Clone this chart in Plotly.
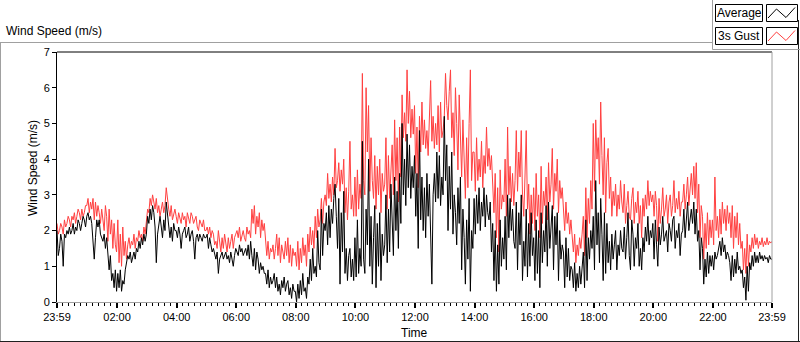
import plotly.graph_objects as go
import pandas as pd

# ---------------- data (2.5-minute samples, 23:59 -> 23:59) ----------------
tick_labels = ["23:59", "02:00", "04:00", "06:00", "08:00", "10:00", "12:00",
               "14:00", "16:00", "18:00", "20:00", "22:00", "23:59"]

gust = [
    2.2, 1.9, 2.0, 2.2, 2.1, 1.9, 2.3, 2.1, 2.2, 2.4, 2.3, 2.1, 2.4, 2.3, 2.5, 2.2, 2.4, 2.6, 2.5, 2.3, 2.6, 2.4, 2.5, 2.7,
    2.7, 2.9, 2.5, 2.8, 2.6, 2.9, 2.3, 2.8, 2.4, 2.7, 2.5, 2.2, 2.6, 2.3, 2.0, 2.7, 2.4, 1.7, 2.6, 1.9, 2.3, 1.5, 2.2, 1.6,
    1.4, 2.3, 1.1, 1.9, 1.0, 2.1, 1.3, 1.7, 1.2, 1.6, 1.8, 1.5, 1.7, 1.6, 1.9, 1.5, 1.8, 1.7, 2.0, 1.8, 1.9, 1.7, 2.1, 1.9,
    2.2, 2.6, 2.5, 2.9, 2.7, 3.0, 2.8, 2.6, 2.9, 2.5, 2.7, 2.4, 2.6, 2.8, 2.5, 2.7, 3.2, 2.8, 2.6, 2.4, 2.7, 2.3, 2.5, 2.6,
    2.4, 2.2, 2.5, 2.3, 2.2, 2.5, 2.3, 2.4, 2.1, 2.5, 2.3, 2.2, 2.5, 2.4, 2.2, 2.3, 2.4, 2.1, 2.0, 2.3, 2.2, 2.1, 2.3, 2.0,
    2.0, 2.1, 1.9, 2.1, 1.8, 2.0, 1.9, 1.6, 1.7, 1.5, 2.0, 1.6, 1.4, 1.8, 1.5, 1.9, 1.6, 1.4, 1.8, 1.5, 1.7, 1.9, 1.5, 1.8,
    1.9, 2.0, 1.8, 2.1, 1.7, 1.9, 2.0, 1.8, 1.7, 2.1, 1.9, 2.0, 1.8, 2.6, 2.2, 2.7, 1.9, 2.4, 2.1, 2.5, 1.8, 2.3, 2.0, 2.2,
    1.6, 1.3, 1.7, 1.2, 1.5, 1.4, 1.6, 1.2, 1.5, 1.9, 1.3, 1.8, 1.1, 1.6, 1.4, 1.2, 1.7, 1.3, 1.8, 1.1, 1.6, 1.0, 1.5, 1.3,
    1.4, 1.0, 1.7, 0.9, 1.5, 1.1, 1.8, 1.3, 1.6, 1.0, 1.9, 1.4, 2.1, 1.6, 2.0, 1.5, 2.4, 1.8, 2.6, 2.1, 2.3, 2.9, 2.2, 2.8,
    3.0, 2.7, 3.6, 2.9, 3.3, 2.8, 3.5, 3.0, 4.3, 3.2, 3.4, 3.9, 3.1, 3.7, 3.3, 4.0, 2.5, 3.2, 2.3, 3.1, 4.5, 2.6, 3.0, 2.4,
    3.5, 2.4, 3.7, 2.6, 3.3, 2.9, 6.4, 3.4, 3.0, 6.0, 4.2, 5.5, 3.1, 4.6, 3.4, 2.9, 4.1, 2.6, 3.8, 3.0, 4.0, 2.5, 3.6, 3.1,
    3.3, 4.6, 2.6, 4.1, 2.9, 3.6, 4.4, 3.0, 5.1, 3.4, 4.6, 2.8, 4.9, 3.5, 5.8, 4.6, 5.3, 4.5, 6.5, 5.0, 5.9, 4.6, 5.4, 4.7,
    5.5, 3.6, 4.9, 3.2, 5.2, 4.2, 5.6, 4.4, 5.1, 4.3, 4.8, 4.1, 5.0, 6.2, 4.5, 5.2, 4.3, 5.0, 4.4, 5.5, 4.2, 5.6, 4.6, 4.8,
    5.2, 6.4, 5.5, 5.1, 5.9, 6.5, 4.6, 5.3, 4.1, 6.0, 5.0, 3.7, 5.8, 4.4, 3.5, 5.1, 4.0, 2.9, 4.6, 3.2, 5.0, 6.5, 3.4, 4.2,
    4.2, 3.1, 4.6, 3.4, 4.0, 3.5, 4.5, 3.2, 4.1, 3.6, 4.9, 3.8, 4.3, 3.7, 4.1, 3.3, 2.5, 3.6, 1.8, 3.2, 1.4, 3.7, 2.6, 3.0,
    2.8, 4.0, 2.4, 4.9, 3.0, 3.8, 2.8, 3.6, 2.7, 3.4, 4.8, 3.1, 4.2, 3.5, 4.8, 3.0, 2.4, 3.5, 4.8, 2.6, 3.3, 1.9, 3.0, 2.2,
    3.2, 2.0, 3.6, 2.4, 3.0, 1.8, 3.8, 2.2, 3.1, 2.7, 3.5, 2.3, 3.9, 2.8, 3.3, 4.3, 2.6, 3.6, 3.1, 4.0, 2.5, 3.4, 2.9, 3.2,
    2.6, 2.0, 2.8, 2.2, 2.5, 1.9, 2.3, 1.8, 1.4, 1.9, 1.1, 1.6, 1.3, 1.8, 1.5, 1.9, 2.4, 1.3, 3.2, 1.8, 2.9, 2.2, 3.4, 2.6,
    5.0, 3.1, 5.1, 4.0, 4.6, 3.3, 5.6, 4.1, 3.0, 4.6, 2.5, 3.9, 4.3, 2.9, 3.5, 2.4, 3.1, 2.7, 3.3, 2.4, 3.0, 2.6, 3.4, 2.8,
    2.5, 3.3, 2.2, 2.7, 3.1, 2.4, 2.3, 2.9, 3.2, 2.2, 2.8, 2.5, 3.1, 2.2, 2.7, 1.8, 2.9, 2.4, 3.0, 2.6, 3.4, 2.7, 3.1, 2.8,
    3.0, 2.4, 3.1, 2.7, 1.7, 2.9, 2.2, 2.6, 3.2, 2.4, 2.6, 3.0, 2.2, 2.8, 3.0, 2.4, 2.7, 3.4, 2.5, 2.9, 2.6, 3.1, 2.4, 2.8,
    2.8, 3.3, 2.6, 3.0, 3.5, 2.7, 3.2, 3.6, 3.0, 3.8, 2.9, 3.9, 2.5, 3.3, 1.8, 2.7, 2.4, 1.2, 2.2, 1.5, 2.5, 1.6, 2.3, 1.8,
    2.3, 1.6, 3.5, 2.0, 2.4, 1.8, 2.6, 1.9, 2.8, 2.2, 2.6, 2.0, 2.7, 2.2, 2.5, 1.8, 2.7, 1.5, 2.4, 1.8, 2.5, 1.6, 2.2, 1.5,
    1.7, 0.9, 1.5, 0.8, 1.9, 1.0, 1.6, 1.4, 1.8, 1.5, 1.9, 1.6, 1.8, 1.5, 1.7, 1.6, 1.8, 1.55, 1.7, 1.6, 1.8, 1.6, 1.7, 1.65,
    1.7,
]

average = [
    2.0, 1.3, 1.5, 1.9, 1.7, 1.0, 1.9, 1.8, 2.0, 1.9, 2.1, 1.9, 2.0, 2.2, 1.9, 2.1, 2.0, 2.3, 2.2, 2.0, 2.2, 2.4, 2.3, 2.1,
    2.4, 2.5, 2.3, 2.4, 2.2, 1.6, 1.2, 1.8, 2.3, 2.1, 2.3, 1.9, 1.8, 1.7, 1.9, 1.5, 1.8, 1.2, 0.9, 1.3, 0.6, 0.8, 0.4, 0.9,
    0.3, 0.8, 0.4, 0.9, 0.3, 0.6, 0.5, 0.9, 1.1, 1.3, 1.2, 1.4, 1.1, 1.3, 1.4, 1.2, 1.5, 1.4, 1.7, 1.5, 1.8, 1.6, 1.9, 1.7,
    1.9, 2.4, 2.2, 2.6, 2.3, 2.7, 2.5, 2.1, 1.1, 1.9, 2.2, 2.4, 2.1, 1.8, 2.3, 2.0, 2.8, 2.5, 2.2, 1.8, 2.1, 1.7, 2.2, 2.0,
    2.0, 1.8, 2.1, 1.9, 1.5, 1.9, 2.0, 2.1, 1.8, 1.9, 2.1, 1.7, 1.9, 2.0, 1.7, 1.2, 1.8, 1.9, 1.7, 1.9, 1.8, 1.7, 1.9, 1.8,
    1.8, 1.9, 1.5, 1.8, 1.6, 1.4, 1.5, 1.3, 1.2, 1.4, 0.8, 1.2, 1.3, 1.4, 1.2, 1.3, 1.4, 1.2, 1.3, 1.1, 1.4, 1.2, 1.0, 1.3,
    1.5, 1.4, 1.3, 1.6, 1.4, 1.5, 1.3, 1.4, 1.5, 1.3, 1.6, 1.2, 1.7, 1.3, 1.0, 1.5, 0.9, 1.4, 1.2, 0.8, 1.1, 0.9, 1.0, 0.8,
    0.8, 0.5, 0.9, 0.4, 0.7, 0.5, 0.6, 0.8, 0.4, 0.7, 0.3, 0.5, 0.2, 0.6, 0.4, 0.7, 0.3, 0.5, 0.6, 0.2, 0.4, 0.1, 0.5, 0.3,
    0.3, 0.0, 0.5, 0.1, 0.6, 0.2, 0.8, 0.3, 0.4, 0.1, 0.7, 0.5, 1.2, 0.6, 1.5, 0.8, 1.0, 0.7, 2.0, 1.1, 0.9, 2.6, 1.3, 2.2,
    2.0, 2.5, 1.6, 2.7, 1.8, 2.6, 2.2, 2.9, 3.3, 2.4, 1.5, 2.9, 0.5, 2.5, 1.4, 3.1, 0.8, 1.5, 0.6, 1.3, 1.5, 0.7, 1.2, 0.6,
    1.8, 0.7, 2.3, 0.8, 1.5, 1.0, 4.5, 1.2, 0.8, 2.6, 1.6, 4.0, 1.0, 2.4, 0.5, 1.8, 2.7, 0.4, 2.2, 1.0, 2.5, 0.6, 1.9, 1.3,
    1.6, 3.0, 1.1, 2.6, 1.4, 3.3, 2.0, 1.3, 3.5, 2.0, 3.1, 1.5, 3.6, 2.2, 5.0, 3.0, 4.0, 2.7, 4.7, 3.2, 4.4, 2.9, 3.8, 3.2,
    4.1, 2.4, 3.6, 1.5, 4.8, 2.3, 3.5, 2.0, 3.2, 1.8, 3.6, 2.4, 3.3, 2.1, 0.5, 3.0, 3.6, 2.8, 4.2, 2.9, 4.1, 2.7, 3.5, 3.0,
    5.2, 3.4, 4.4, 2.0, 3.8, 2.6, 4.2, 1.9, 3.0, 2.5, 1.6, 3.2, 2.2, 3.5, 0.9, 2.6, 1.8, 0.5, 2.3, 1.2, 2.9, 0.3, 2.0, 1.5,
    2.9, 1.9, 3.0, 2.2, 3.2, 2.0, 2.8, 2.4, 3.2, 2.1, 3.0, 2.5, 2.3, 2.8, 1.4, 2.2, 0.6, 2.0, 0.3, 1.6, 0.5, 2.3, 1.0, 1.8,
    1.2, 2.4, 0.9, 3.0, 1.8, 2.9, 2.0, 2.6, 1.7, 1.5, 2.8, 0.9, 2.5, 1.6, 3.0, 0.6, 1.7, 1.0, 2.6, 0.7, 2.2, 1.0, 2.5, 1.3,
    1.8, 0.6, 2.3, 0.8, 2.0, 0.4, 2.5, 1.1, 2.0, 1.4, 2.7, 1.0, 2.8, 1.5, 2.2, 2.7, 0.9, 2.4, 1.6, 2.5, 0.6, 2.0, 1.2, 1.6,
    1.4, 0.4, 1.8, 0.7, 1.5, 0.6, 1.0, 0.9, 0.4, 1.1, 0.3, 0.8, 0.4, 1.0, 0.5, 1.0, 1.4, 0.4, 2.3, 0.6, 1.8, 1.2, 2.0, 1.5,
    2.4, 0.9, 3.4, 1.6, 2.5, 1.1, 2.9, 1.9, 0.6, 2.5, 0.8, 2.2, 1.1, 1.7, 0.9, 1.9, 1.2, 1.6, 2.0, 0.9, 1.6, 1.3, 2.0, 1.5,
    1.4, 2.1, 1.2, 1.8, 2.5, 1.3, 0.9, 2.3, 1.9, 1.0, 1.8, 1.5, 2.2, 1.0, 1.5, 0.9, 1.8, 1.4, 2.1, 1.7, 2.4, 1.6, 2.0, 1.8,
    2.2, 1.2, 2.3, 1.6, 1.0, 2.1, 1.6, 1.9, 2.4, 1.7, 1.9, 2.0, 1.4, 2.2, 2.0, 1.7, 2.3, 2.4, 1.5, 2.0, 1.8, 2.2, 1.3, 1.9,
    2.0, 2.6, 1.8, 2.3, 2.8, 2.0, 2.4, 2.6, 2.2, 2.8, 1.9, 2.6, 1.7, 2.0, 0.9, 1.8, 1.5, 0.5, 1.2, 0.7, 1.4, 0.8, 1.3, 1.0,
    1.3, 0.9, 1.4, 1.2, 1.3, 1.5, 1.7, 1.3, 1.8, 1.4, 1.6, 1.2, 1.4, 1.3, 1.1, 0.6, 1.3, 0.7, 1.2, 0.8, 1.4, 0.9, 1.0, 0.8,
    0.9, 0.4, 0.7, 0.05, 1.0, 0.3, 1.1, 0.9, 1.3, 1.0, 1.4, 1.1, 1.3, 1.1, 1.4, 1.2, 1.3, 1.15, 1.3, 1.2, 1.25, 1.1, 1.3, 1.2,
    1.2,
]

start = pd.Timestamp("2024-01-01 23:59")
end = start + pd.Timedelta(hours=24)
times_g = pd.date_range(start, periods=len(gust), freq="150s")
times_a = pd.date_range(start, periods=len(average), freq="150s")
tick_vals = [start] + [pd.Timestamp("2024-01-02") + pd.Timedelta(hours=h)
                       for h in range(2, 23, 2)] + [end]

# ---------------- geometry helpers (pixels -> paper) ----------------
W, H = 800, 342
L, R, T, B = 57, 772, 52, 302


def px(x):
    return (x - L) / (R - L)


def py(y):
    return (B - y) / (B - T)


FONT = "Liberation Sans, Arial, sans-serif"
TXT = "#000000"
GRAY = "#a0a0a0"
RED = "#ff4040"

fig = go.Figure()
fig.add_trace(go.Scatter(x=times_g, y=gust, mode="lines", name="3s Gust",
                         line=dict(color=RED, width=1), showlegend=False))
fig.add_trace(go.Scatter(x=times_a, y=average, mode="lines", name="Average",
                         line=dict(color="#000000", width=1), showlegend=False))

shapes = []


def seg(x0, y0, x1, y1, color, width=1):
    shapes.append(dict(type="line", xref="paper", yref="paper",
                       x0=px(x0), y0=py(y0), x1=px(x1), y1=py(y1),
                       line=dict(color=color, width=width), layer="above"))


# outer panel frame
seg(0, 42.5, 712, 42.5, GRAY)
seg(0.5, 42.5, 0.5, 341, GRAY)
seg(0, 341.5, 800, 341.5, "#202020")
seg(798.5, 20, 798.5, 341.5, "#202020")
# plot area top / right borders
seg(L, T, R, T, "#000000")
seg(R, T, R, B, GRAY)
# legend panel L-border
seg(712.5, 0, 712.5, 49.5, GRAY)
seg(712.5, 49.5, 800, 49.5, GRAY)

# legend boxes
for (y0, y1) in [(4.5, 21.5), (27.5, 44.5)]:
    for (x0, x1) in [(715.5, 762.5), (766.5, 797.5)]:
        shapes.append(dict(type="rect", xref="paper", yref="paper",
                           x0=px(x0), x1=px(x1), y0=py(y1), y1=py(y0),
                           line=dict(color="#000000", width=1),
                           fillcolor="white", layer="above"))


def zig(y_off, color):
    pts = [(768, 18), (776.5, 9), (786, 17.5), (795, 7.5)]
    d = "M " + " L ".join(f"{px(x)},{py(y + y_off)}" for x, y in pts)
    shapes.append(dict(type="path", xref="paper", yref="paper", path=d,
                       line=dict(color=color, width=1), layer="above"))


zig(0, "#000000")
zig(23, RED)

annotations = [
    dict(text="Wind Speed (m/s)", x=px(4), y=py(31), xref="paper", yref="paper",
         xanchor="left", yanchor="middle", showarrow=False,
         font=dict(family=FONT, size=12, color=TXT)),
    dict(text="Average", x=px(739), y=py(13), xref="paper", yref="paper",
         xanchor="center", yanchor="middle", showarrow=False,
         font=dict(family=FONT, size=12, color=TXT)),
    dict(text="3s Gust", x=px(739), y=py(36), xref="paper", yref="paper",
         xanchor="center", yanchor="middle", showarrow=False,
         font=dict(family=FONT, size=12, color=TXT)),
    dict(text="Wind Speed (m/s)", x=px(33), y=py(168), xref="paper", yref="paper",
         xanchor="center", yanchor="middle", showarrow=False, textangle=-90,
         font=dict(family=FONT, size=12, color=TXT)),
    dict(text="Time", x=px(414), y=py(333), xref="paper", yref="paper",
         xanchor="center", yanchor="middle", showarrow=False,
         font=dict(family=FONT, size=12, color=TXT)),
]

fig.update_layout(
    width=W, height=H,
    margin=dict(l=L, r=W - R, t=T, b=H - B, pad=0),
    paper_bgcolor="white", plot_bgcolor="white",
    font=dict(family=FONT, size=11, color=TXT),
    shapes=shapes, annotations=annotations,
    xaxis=dict(type="date", range=[start, end], tickmode="array",
               tickvals=tick_vals, ticktext=tick_labels,
               ticks="outside", ticklen=5, tickwidth=2, tickcolor="#000000",
               showline=True, linecolor=GRAY, linewidth=1,
               showgrid=False, zeroline=False,
               tickfont=dict(family=FONT, size=11, color=TXT),
               minor=dict(ticks="outside", ticklen=3, tickwidth=1,
                          tickcolor="#000000", tickmode="linear",
                          tick0=start, dtick=12 * 60 * 1000, showgrid=False)),
    yaxis=dict(range=[0, 7], dtick=1, tick0=0, ticks="outside", ticklen=4,
               tickwidth=1, tickcolor="#000000",
               showline=True, linecolor="#000000", linewidth=1,
               showgrid=False, zeroline=False,
               tickfont=dict(family=FONT, size=11, color=TXT)),
)

fig.write_html(
    "out.html",
    config={"displayModeBar": False},
    post_script="document.body.style.margin='0px';document.body.style.padding='0px';",
)
